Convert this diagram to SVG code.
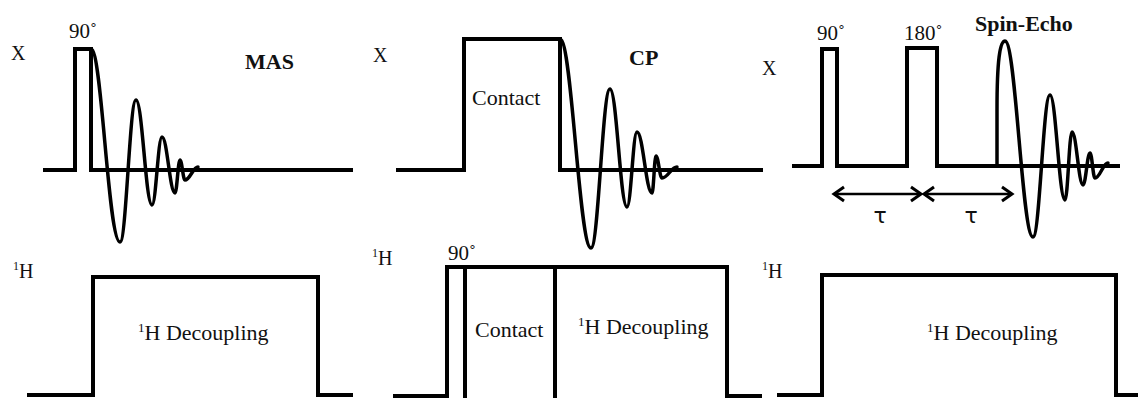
<svg xmlns="http://www.w3.org/2000/svg" width="1138" height="398" viewBox="0 0 1138 398">
<style>
.ln{fill:none;stroke:#000;stroke-width:4;stroke-linejoin:miter;stroke-linecap:butt}
.fid{fill:none;stroke:#000;stroke-width:3.5;stroke-linejoin:round;stroke-linecap:round}
text{font-family:'Liberation Serif','Times New Roman',Times,'DejaVu Serif',serif;fill:#111}
.ch{font-size:20px}
.deg{font-size:21px}
.lab{font-size:22px}
.b{font-size:22px;font-weight:bold}
text.tau{font-family:'DejaVu Sans','Liberation Sans',sans-serif;font-size:22px}
.arr{fill:none;stroke:#000;stroke-width:2.5}
</style>
<defs>
<marker id="chev" markerUnits="userSpaceOnUse" markerWidth="24" markerHeight="24" viewBox="-12 -12 24 24" refX="0" refY="0" orient="auto-start-reverse" overflow="visible">
<path d="M-10,-7 L0,0 L-10,7" fill="none" stroke="#000" stroke-width="3" stroke-linejoin="miter"/>
</marker>
</defs>
<rect width="1138" height="398" fill="#fff"/>

<g id="mas-x">
<text class="ch" x="11" y="60">X</text>
<text class="deg" x="69" y="38">90˚</text>
<text class="b" x="245" y="69">MAS</text>
<path class="ln" d="M43,170 H75 V49 H91 V170 H353"/>
<path class="fid" d="M91,49 C102,49 108,242 120,242 C126.4,242 129.6,100 136,100 C142.4,100 145.6,205 152,205 C156,205 158,137 162,137 C167.2,137 169.8,193 175,193 C177,193 178,160 180,160 C182,160 183,180 185,180 C190,180 193,167 198,167"/>
</g>

<g id="cp-x">
<text class="ch" x="373" y="62">X</text>
<text class="lab" x="472" y="105">Contact</text>
<text class="b" x="629" y="65">CP</text>
<path class="ln" d="M396,170 H464 V39 H560 V170 H763"/>
<path class="fid" d="M560,39 C572,39 579,248 591,248 C598.6,248 602.4,89 610,89 C616.8,89 620.2,207 627,207 C631,207 633,132 637,132 C643,132 646,193 652,193 C653.6,193 654.4,156 656,156 C658.4,156 659.6,178 662,178 C668,178 671,167 677,167"/>
</g>

<g id="se-x">
<text class="ch" x="762" y="75">X</text>
<text class="deg" x="817" y="40">90˚</text>
<text class="deg" x="904" y="40">180˚</text>
<text class="b" x="975" y="31">Spin-Echo</text>
<path class="ln" d="M792,166 H822 V49 H837 V166 H907 V48 H937 V166 H1120"/>
<path class="fid" d="M997,166 L997,110 C997,60 1000,41 1005,41 C1016,41 1022,237 1033,237 C1039.8,237 1043.2,95 1050,95 C1056,95 1059,200 1065,200 C1067.8,200 1069.2,132 1072,132 C1076.4,132 1078.6,185 1083,185 C1085.8,185 1087.2,153 1090,153 C1092,153 1093,178 1095,178 C1100,178 1103,163 1108,163"/>
<text class="tau" x="880" y="223" text-anchor="middle">τ</text>
<text class="tau" x="971" y="223" text-anchor="middle">τ</text>
</g>

<g id="mas-h">
<text class="ch" x="13" y="278"><tspan font-size="12" dy="-8">1</tspan><tspan dy="8">H</tspan></text>
<path class="ln" d="M27,395 H93 V277 H318 V395 H353"/>
<text class="lab" x="138" y="340"><tspan font-size="13" dy="-8">1</tspan><tspan dy="8">H Decoupling</tspan></text>
</g>

<g id="cp-h">
<text class="ch" x="372" y="265"><tspan font-size="12" dy="-8">1</tspan><tspan dy="8">H</tspan></text>
<text class="deg" x="448" y="260">90˚</text>
<path class="ln" d="M393,396 H447 V267 H727 V396 H762"/>
<path class="ln" d="M465,267 V398 M555,267 V398"/>
<text class="lab" x="475" y="337">Contact</text>
<text class="lab" x="578" y="334"><tspan font-size="13" dy="-8">1</tspan><tspan dy="8">H Decoupling</tspan></text>
</g>

<g id="se-h">
<text class="ch" x="762" y="278"><tspan font-size="12" dy="-8">1</tspan><tspan dy="8">H</tspan></text>
<path class="ln" d="M777,395 H822 V275 H1116 V395 H1138"/>
<text class="lab" x="927" y="340"><tspan font-size="13" dy="-8">1</tspan><tspan dy="8">H Decoupling</tspan></text>
</g>

<g id="connectors">
<line class="arr" x1="834" y1="194" x2="921" y2="194" marker-start="url(#chev)" marker-end="url(#chev)"/>
<line class="arr" x1="924" y1="194" x2="1012" y2="194" marker-start="url(#chev)" marker-end="url(#chev)"/>
</g>
</svg>
